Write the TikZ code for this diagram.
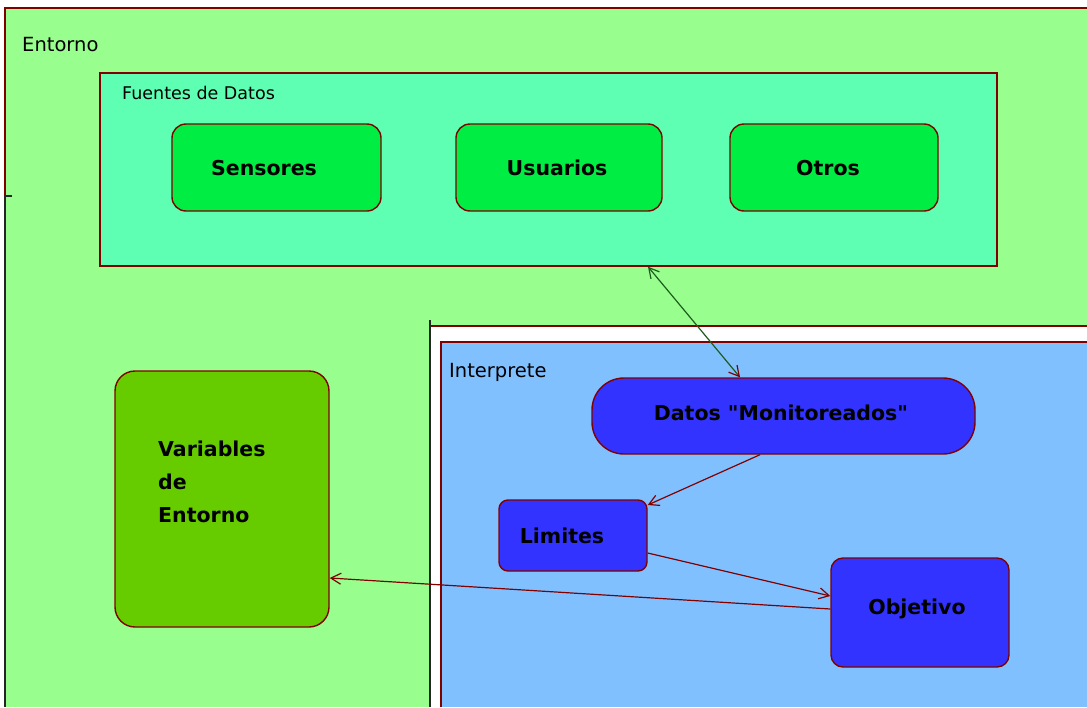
\documentclass[tikz,border=0pt]{standalone}
\usepackage{fontspec}
\setmainfont{DejaVu Sans}[Ligatures=TeXOff]
\usetikzlibrary{arrows.meta}
\definecolor{bord}{HTML}{800000}
\definecolor{entorno}{HTML}{98FF8E}
\definecolor{fuentes}{HTML}{5EFFB2}
\definecolor{verde}{HTML}{00EE44}
\definecolor{varcol}{HTML}{66CC00}
\definecolor{interp}{HTML}{80C0FF}
\definecolor{azul}{HTML}{3333FF}
\definecolor{dgreen}{HTML}{1E5C1E}
\tikzset{
  box/.style={draw=bord, line width=1.4pt, inner sep=0pt},
  greenbox/.style={box, fill=verde, rounded corners=14pt},
  bluebox/.style={box, fill=azul},
  boldlbl/.style={inner sep=0pt, font=\fontsize{20.5}{24}\bfseries\selectfont},
  plainlbl/.style={inner sep=0pt, anchor=west, font=\fontsize{19.5}{23}\selectfont},
  conn/.style={draw=bord, line width=1.2pt, -{Straight Barb[length=10pt,width=11pt]}},
}
\begin{document}
\begin{tikzpicture}[x=1pt,y=-1pt]
\useasboundingbox (0,0) rectangle (1087,707);
\fill[white] (0,0) rectangle (1087,707);
% Entorno
\fill[entorno] (5,8) rectangle (1087,707);
\draw[bord, line width=1.4pt] (5,196) -- (5,8) -- (1087,8);
\draw[black!85, line width=1.4pt] (12,196) -- (5,196) -- (5,707);
\node[plainlbl] (lentorno) at (22,45) {Entorno};
% Fuentes de Datos
\node[box, fill=fuentes, minimum width=897pt, minimum height=193pt] (fuentes) at (548.5,169.5) {};
\node[plainlbl, font=\fontsize{17.5}{21}\selectfont] (lfuentes) at (122,93) {Fuentes de Datos};
\node[greenbox, minimum width=209pt, minimum height=87pt] (sensores) at (276.5,167.5) {};
\node[greenbox, minimum width=206pt, minimum height=87pt] (usuarios) at (559,167.5) {};
\node[greenbox, minimum width=208pt, minimum height=87pt] (otros) at (834,167.5) {};
\node[boldlbl] (lsensores) at (264,168) {Sensores};
\node[boldlbl] (lusuarios) at (557,168) {Usuarios};
\node[boldlbl] (lotros) at (828,168) {Otros};
% Interprete outer frame
\fill[white] (430,326) rectangle (1087,707);
\draw[bord, line width=1.4pt] (430,326) -- (1087,326);
\draw[black!85, line width=1.4pt] (430,320) -- (430,707);
% Interprete
\fill[interp] (441,342) rectangle (1087,707);
\draw[bord, line width=1.4pt] (441,707) -- (441,342) -- (1087,342);
\node[plainlbl] (linterp) at (449,372) {Interprete};
% Variables de Entorno
\node[box, fill=varcol, rounded corners=20pt, minimum width=214pt, minimum height=256pt] (variables) at (222,499) {};
\node[boldlbl, anchor=west, align=left, font=\fontsize{20.5}{33}\bfseries\selectfont] (lvariables) at (158,482) {Variables\\de\\Entorno};
% Blue boxes
\node[bluebox, rounded corners=32pt, minimum width=383pt, minimum height=76pt] (datos) at (783.5,416) {};
\node[boldlbl] (ldatos) at (781,413) {Datos "Monitoreados"};
\node[bluebox, rounded corners=9pt, minimum width=148pt, minimum height=71pt] (limites) at (573,535.5) {};
\node[boldlbl] (llimites) at (562,536) {Limites};
\node[bluebox, rounded corners=12pt, minimum width=178pt, minimum height=109pt] (objetivo) at (920,612.5) {};
\node[boldlbl] (lobjetivo) at (917,609) {Objetivo};
% Connectors
\draw[dgreen, line width=1.2pt, {Straight Barb[length=10pt,width=11pt]}-{Straight Barb[length=10pt,width=11pt,color=bord]}]
  (fuentes.south -| 648,0) -- (datos.north -| 740,0);
\draw[conn] (datos.south -| 760,0) -- (limites.east |- 0,505);
\draw[conn] (limites.east |- 0,553) -- (objetivo.west |- 0,596);
\draw[conn] (objetivo.west |- 0,609) -- (variables.east |- 0,578);
\end{tikzpicture}
\end{document}
